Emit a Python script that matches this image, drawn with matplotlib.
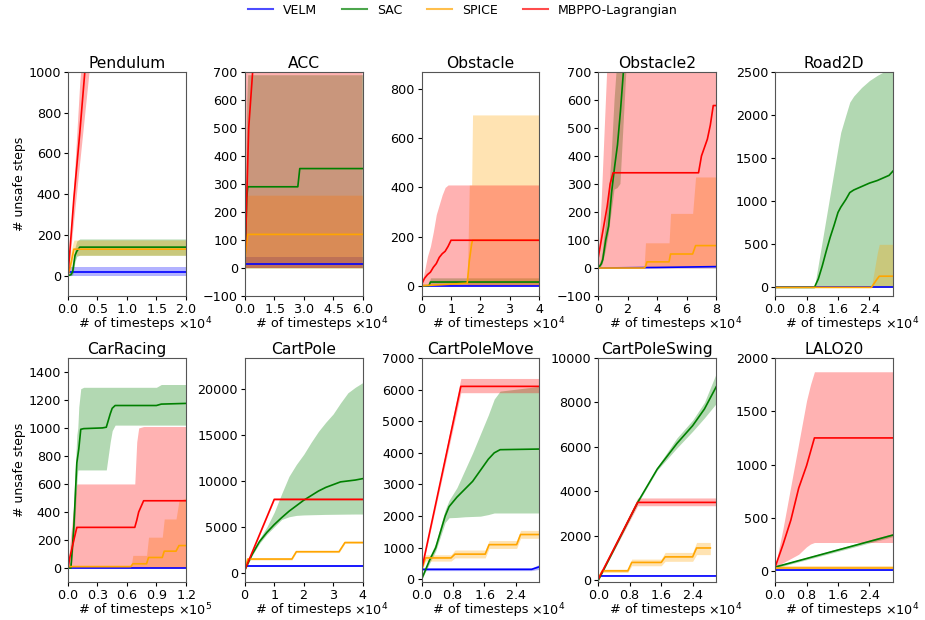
import matplotlib
matplotlib.use("Agg")
import matplotlib.pyplot as plt
import matplotlib.lines as mlines
import numpy as np

METHODS = ["VELM", "SAC", "SPICE", "MBPPO-Lagrangian"]
COLORS = ["blue", "green", "orange", "red"]

# --- Pendulum (x in 1e4 steps) ---
pend_velm_x = [0, 2.0]
pend_velm = [20, 20]
pend_velm_lo = [0, 0]
pend_velm_hi = [42, 42]
pend_sac_x = [0, 0.05, 0.08, 0.12, 0.15, 0.2, 2.0]
pend_sac = [0, 5, 20, 100, 120, 140, 140]
pend_sac_lo = [0, 0, 5, 70, 95, 100, 100]
pend_sac_hi = [0, 20, 60, 140, 170, 180, 180]
pend_spice_x = [0, 0.05, 0.1, 2.0]
pend_spice = [0, 60, 130, 130]
pend_spice_lo = [0, 30, 100, 100]
pend_spice_hi = [0, 120, 175, 175]
pend_mb_x = [0, 0.1, 0.2, 0.3, 0.4]
pend_mb = [0, 380, 700, 1050, 1400]
pend_mb_lo = [0, 280, 560, 840, 1120]
pend_mb_hi = [0, 450, 950, 1300, 1700]

# --- ACC ---
acc_velm_x = [0, 6.0]
acc_velm = [15, 15]
acc_velm_lo = [0, 0]
acc_velm_hi = [40, 40]
acc_sac_x = [0, 0.05, 0.1, 0.15, 2.7, 2.8, 6.0]
acc_sac = [0, 120, 250, 290, 290, 355, 355]
acc_sac_lo = [0, 0, 0, 0, 0, 0, 0]
acc_sac_hi = [0, 300, 600, 690, 690, 690, 690]
acc_spice_x = [0, 0.05, 0.15, 6.0]
acc_spice = [30, 60, 120, 120]
acc_spice_lo = [0, 0, 0, 0]
acc_spice_hi = [30, 150, 260, 260]
acc_mb_x = [0, 0.1, 0.2, 0.3, 0.5, 6.0]
acc_mb = [0, 250, 500, 600, 800, 3000]
acc_mb_lo = [0, 0, 0, 0, 0, 0]
acc_mb_hi = [800, 1200, 1500, 2000, 3000, 10000]

# --- Obstacle ---
obs_velm_x = [0, 4.0]
obs_velm = [0, 0]
obs_velm_lo = [0, 0]
obs_velm_hi = [2, 2]
obs_sac_x = [0, 0.25, 0.3, 4.0]
obs_sac = [0, 0, 15, 15]
obs_sac_lo = [0, 0, 5, 5]
obs_sac_hi = [0, 5, 32, 32]
obs_spice_x = [0, 1.55, 1.62, 1.7, 1.73, 4.0]
obs_spice = [0, 10, 100, 170, 185, 185]
obs_spice_lo = [0, 0, 0, 0, 0, 0]
obs_spice_hi = [0, 0, 410, 410, 695, 695]
obs_mb_x = [0, 0.1, 0.2, 0.3, 0.4, 0.5, 0.6, 0.7, 0.8, 0.9, 1.0, 4.0]
obs_mb = [5, 30, 45, 55, 75, 90, 115, 130, 140, 160, 185, 185]
obs_mb_lo = [0, 0, 0, 0, 0, 0, 0, 0, 0, 0, 0, 0]
obs_mb_hi = [5, 60, 120, 160, 220, 290, 330, 370, 400, 410, 410, 410]

# --- Obstacle2 ---
obs2_velm_x = [0, 4.0, 8.0]
obs2_velm = [0, 2, 5]
obs2_velm_lo = [0, 0, 0]
obs2_velm_hi = [0, 3, 8]
obs2_sac_x = [0, 0.2, 0.3, 0.5, 0.7, 0.9, 1.1, 1.3, 1.5, 1.7, 2.0, 8.0]
obs2_sac = [0, 15, 30, 100, 150, 270, 360, 440, 560, 700, 900, 5000]
obs2_sac_lo = [0, 5, 15, 60, 120, 200, 280, 285, 300, 500, 800, 5000]
obs2_sac_hi = [0, 30, 60, 150, 250, 400, 600, 750, 900, 1100, 1400, 8000]
obs2_spice_x = [0, 3.1, 3.2, 3.3, 4.8, 4.9, 6.4, 6.6, 8.0]
obs2_spice = [0, 0, 5, 22, 22, 50, 50, 80, 80]
obs2_spice_lo = [0, 0, 0, 0, 0, 0, 0, 0, 0]
obs2_spice_hi = [0, 0, 90, 90, 90, 195, 195, 325, 325]
obs2_mb_x = [0, 0.2, 0.4, 0.6, 0.8, 1.0, 6.8, 7.0, 7.2, 7.4, 7.6, 7.8, 8.0]
obs2_mb = [40, 100, 160, 220, 300, 340, 340, 400, 430, 460, 510, 580, 580]
obs2_mb_lo = [0, 5, 5, 5, 5, 5, 5, 5, 5, 5, 5, 5, 5]
obs2_mb_hi = [40, 250, 500, 750, 850, 1000, 1000, 1000, 1000, 1000, 1000, 1000, 1000]

# --- Road2D ---
road_velm_x = [0, 3.0]
road_velm = [0, 0]
road_velm_lo = [0, 0]
road_velm_hi = [0, 0]
road_sac_x = [0, 1.0, 1.1, 1.2, 1.3, 1.4, 1.5, 1.6, 1.67, 1.8, 1.9, 2.0, 2.2,
              2.4, 2.6, 2.8, 2.9, 3.0]
road_sac = [0, 0, 100, 250, 420, 580, 720, 870, 930, 1020, 1100, 1130, 1170,
            1210, 1240, 1280, 1300, 1350]
road_sac_lo = [0] * 18
road_sac_hi = [0, 0, 270, 540, 810, 1080, 1350, 1620, 1800, 2000, 2150, 2220,
               2320, 2400, 2460, 2510, 2530, 2550]
road_spice_x = [0, 2.45, 2.6, 2.65, 3.0]
road_spice = [0, 0, 100, 130, 130]
road_spice_lo = [0, 0, 0, 0, 0]
road_spice_hi = [0, 0, 400, 500, 500]
road_mb_x = []
road_mb = []
road_mb_lo = []
road_mb_hi = []

# --- CarRacing (x in 1e5 steps) ---
car_velm_x = [0, 1.2]
car_velm = [0, 0]
car_velm_lo = [0, 0]
car_velm_hi = [0, 0]
car_sac_x = [0, 0.03, 0.06, 0.09, 0.1, 0.11, 0.13, 0.16, 0.35, 0.39, 0.43,
             0.45, 0.48, 0.9, 0.95, 1.2]
car_sac = [0, 0, 300, 750, 800, 850, 990, 995, 1000, 1005, 1100, 1140, 1160,
           1160, 1170, 1175]
car_sac_lo = [0, 0, 200, 600, 700, 700, 700, 700, 700, 700, 900, 980, 1020,
              1020, 1020, 1020]
car_sac_hi = [0, 50, 500, 950, 1000, 1150, 1280, 1290, 1290, 1290, 1290,
              1290, 1290, 1290, 1310, 1310]
car_spice_x = [0, 0.64, 0.66, 0.8, 0.82, 0.96, 0.98, 1.1, 1.13, 1.2]
car_spice = [10, 10, 30, 30, 75, 75, 120, 120, 160, 160]
car_spice_lo = [0, 0, 0, 0, 0, 0, 0, 0, 0, 0]
car_spice_hi = [0, 0, 90, 90, 220, 220, 350, 350, 480, 500]
car_mb_x = [0, 0.02, 0.06, 0.09, 0.1, 0.68, 0.7, 0.72, 0.77, 1.2]
car_mb = [0, 80, 200, 290, 290, 290, 340, 400, 480, 480]
car_mb_lo = [0, 0, 0, 0, 0, 0, 0, 0, 0, 0]
car_mb_hi = [0, 180, 450, 600, 600, 600, 900, 1000, 1010, 1010]

# --- CartPole ---
cp_velm_x = [0, 4.0]
cp_velm = [700, 700]
cp_velm_lo = [600, 600]
cp_velm_hi = [800, 800]
cp_sac_x = [0, 0.25, 0.5, 0.75, 1.0, 1.25, 1.5, 1.75, 2.0, 2.25, 2.5, 2.75,
            3.0, 3.25, 3.5, 3.75, 4.0]
cp_sac = [300, 2000, 3400, 4400, 5250, 6000, 6700, 7300, 7900, 8400, 8900,
          9300, 9600, 9900, 10000, 10100, 10250]
cp_sac_lo = [200, 1900, 3200, 4200, 5000, 5800, 6100, 6250, 6300, 6320, 6340,
             6360, 6370, 6380, 6390, 6400, 6400]
cp_sac_hi = [300, 2100, 3700, 5000, 6600, 8600, 10500, 11800, 12900, 14200,
             15400, 16400, 17300, 18500, 19600, 20200, 20700]
cp_spice_x = [0, 0.1, 1.6, 1.75, 3.2, 3.4, 4.0]
cp_spice = [300, 1500, 1500, 2300, 2300, 3300, 3300]
cp_spice_lo = [200, 1400, 1400, 2200, 2200, 3200, 3200]
cp_spice_hi = [400, 1600, 1600, 2400, 2400, 3400, 3400]
cp_mb_x = [0, 1.0, 4.0]
cp_mb = [300, 8000, 8000]
cp_mb_lo = [200, 7900, 7900]
cp_mb_hi = [400, 8100, 8100]

# --- CartPoleMove ---
cpm_velm_x = [0, 2.8, 2.9, 3.0]
cpm_velm = [320, 320, 360, 400]
cpm_velm_lo = [280, 280, 300, 320]
cpm_velm_hi = [360, 360, 420, 480]
cpm_sac_x = [0, 0.2, 0.36, 0.6, 0.7, 0.9, 1.1, 1.3, 1.5, 1.7, 1.85, 2.0, 3.0]
cpm_sac = [0, 600, 1000, 2000, 2300, 2600, 2850, 3100, 3450, 3800, 4000, 4100,
           4120]
cpm_sac_lo = [0, 500, 900, 1800, 1950, 1960, 1980, 1990, 2000, 2050, 2100,
              2100, 2100]
cpm_sac_hi = [0, 700, 1150, 2200, 2500, 2900, 3450, 4000, 4600, 5200, 5700,
              5950, 6100]
cpm_spice_x = [0, 0.1, 0.75, 0.85, 1.62, 1.72, 2.42, 2.52, 3.0]
cpm_spice = [300, 680, 680, 800, 800, 1100, 1100, 1420, 1420]
cpm_spice_lo = [250, 580, 580, 680, 680, 980, 980, 1300, 1300]
cpm_spice_hi = [350, 780, 780, 930, 930, 1230, 1230, 1550, 1550]
cpm_mb_x = [0, 1.0, 3.0]
cpm_mb = [300, 6100, 6100]
cpm_mb_lo = [250, 5900, 5900]
cpm_mb_hi = [350, 6350, 6350]

# --- CartPoleSwing ---
cps_velm_x = [0, 3.0]
cps_velm = [200, 200]
cps_velm_lo = [170, 170]
cps_velm_hi = [230, 230]
cps_sac_x = [0, 0.5, 1.0, 1.5, 2.0, 2.4, 2.7, 3.0]
cps_sac = [0, 1750, 3500, 5000, 6150, 6950, 7700, 8700]
cps_sac_lo = [0, 1700, 3450, 4950, 5950, 6700, 7300, 7950]
cps_sac_hi = [0, 1800, 3550, 5100, 6400, 7200, 8000, 9300]
cps_spice_x = [0, 0.1, 0.75, 0.85, 1.6, 1.7, 2.4, 2.5, 2.85]
cps_spice = [100, 420, 420, 800, 800, 1050, 1050, 1450, 1450]
cps_spice_lo = [50, 350, 350, 650, 650, 850, 850, 1150, 1150]
cps_spice_hi = [150, 500, 500, 950, 950, 1250, 1250, 1700, 1700]
cps_mb_x = [0, 1.0, 3.0]
cps_mb = [50, 3500, 3500]
cps_mb_lo = [0, 3350, 3350]
cps_mb_hi = [100, 3700, 3700]

# --- LALO20 ---
lalo_velm_x = [0, 3.0]
lalo_velm = [10, 10]
lalo_velm_lo = [5, 5]
lalo_velm_hi = [15, 15]
lalo_sac_x = [0, 3.0]
lalo_sac = [40, 340]
lalo_sac_lo = [30, 325]
lalo_sac_hi = [50, 355]
lalo_spice_x = [0, 3.0]
lalo_spice = [30, 30]
lalo_spice_lo = [10, 10]
lalo_spice_hi = [50, 50]
lalo_mb_x = [0, 0.2, 0.4, 0.6, 0.8, 0.9, 1.0, 3.0]
lalo_mb = [40, 250, 480, 780, 990, 1120, 1250, 1250]
lalo_mb_lo = [40, 80, 120, 160, 230, 256, 270, 270]
lalo_mb_hi = [40, 400, 800, 1200, 1600, 1750, 1870, 1870]

TITLES = ["Pendulum", "ACC", "Obstacle", "Obstacle2", "Road2D",
          "CarRacing", "CartPole", "CartPoleMove", "CartPoleSwing", "LALO20"]
X_SCALE = [1e4, 1e4, 1e4, 1e4, 1e4, 1e5, 1e4, 1e4, 1e4, 1e4]
X_MAX = [2.0, 6.0, 4.0, 8.0, 3.0, 1.2, 4.0, 3.0, 3.0, 3.0]
X_TICKS = [[0, 0.5, 1.0, 1.5, 2.0], [0, 1.5, 3.0, 4.5, 6.0], [0, 1, 2, 3, 4],
           [0, 2, 4, 6, 8], [0, 0.8, 1.6, 2.4], [0, 0.3, 0.6, 0.9, 1.2],
           [0, 1, 2, 3, 4], [0, 0.8, 1.6, 2.4], [0, 0.8, 1.6, 2.4],
           [0, 0.8, 1.6, 2.4]]
Y_LIMS = [(-100, 1000), (-100, 700), (-42, 870), (-100, 700), (-100, 2500),
          (-100, 1500), (-1000, 23400), (-80, 7000), (-80, 10000), (-100, 2000)]
Y_STEP = [200, 100, 200, 100, 500, 200, 5000, 1000, 2000, 500]

panels = [
    [(pend_velm_x, pend_velm, pend_velm_lo, pend_velm_hi),
     (pend_sac_x, pend_sac, pend_sac_lo, pend_sac_hi),
     (pend_spice_x, pend_spice, pend_spice_lo, pend_spice_hi),
     (pend_mb_x, pend_mb, pend_mb_lo, pend_mb_hi)],
    [(acc_velm_x, acc_velm, acc_velm_lo, acc_velm_hi),
     (acc_sac_x, acc_sac, acc_sac_lo, acc_sac_hi),
     (acc_spice_x, acc_spice, acc_spice_lo, acc_spice_hi),
     (acc_mb_x, acc_mb, acc_mb_lo, acc_mb_hi)],
    [(obs_velm_x, obs_velm, obs_velm_lo, obs_velm_hi),
     (obs_sac_x, obs_sac, obs_sac_lo, obs_sac_hi),
     (obs_spice_x, obs_spice, obs_spice_lo, obs_spice_hi),
     (obs_mb_x, obs_mb, obs_mb_lo, obs_mb_hi)],
    [(obs2_velm_x, obs2_velm, obs2_velm_lo, obs2_velm_hi),
     (obs2_sac_x, obs2_sac, obs2_sac_lo, obs2_sac_hi),
     (obs2_spice_x, obs2_spice, obs2_spice_lo, obs2_spice_hi),
     (obs2_mb_x, obs2_mb, obs2_mb_lo, obs2_mb_hi)],
    [(road_velm_x, road_velm, road_velm_lo, road_velm_hi),
     (road_sac_x, road_sac, road_sac_lo, road_sac_hi),
     (road_spice_x, road_spice, road_spice_lo, road_spice_hi),
     (road_mb_x, road_mb, road_mb_lo, road_mb_hi)],
    [(car_velm_x, car_velm, car_velm_lo, car_velm_hi),
     (car_sac_x, car_sac, car_sac_lo, car_sac_hi),
     (car_spice_x, car_spice, car_spice_lo, car_spice_hi),
     (car_mb_x, car_mb, car_mb_lo, car_mb_hi)],
    [(cp_velm_x, cp_velm, cp_velm_lo, cp_velm_hi),
     (cp_sac_x, cp_sac, cp_sac_lo, cp_sac_hi),
     (cp_spice_x, cp_spice, cp_spice_lo, cp_spice_hi),
     (cp_mb_x, cp_mb, cp_mb_lo, cp_mb_hi)],
    [(cpm_velm_x, cpm_velm, cpm_velm_lo, cpm_velm_hi),
     (cpm_sac_x, cpm_sac, cpm_sac_lo, cpm_sac_hi),
     (cpm_spice_x, cpm_spice, cpm_spice_lo, cpm_spice_hi),
     (cpm_mb_x, cpm_mb, cpm_mb_lo, cpm_mb_hi)],
    [(cps_velm_x, cps_velm, cps_velm_lo, cps_velm_hi),
     (cps_sac_x, cps_sac, cps_sac_lo, cps_sac_hi),
     (cps_spice_x, cps_spice, cps_spice_lo, cps_spice_hi),
     (cps_mb_x, cps_mb, cps_mb_lo, cps_mb_hi)],
    [(lalo_velm_x, lalo_velm, lalo_velm_lo, lalo_velm_hi),
     (lalo_sac_x, lalo_sac, lalo_sac_lo, lalo_sac_hi),
     (lalo_spice_x, lalo_spice, lalo_spice_lo, lalo_spice_hi),
     (lalo_mb_x, lalo_mb, lalo_mb_lo, lalo_mb_hi)],
]

fig, axes = plt.subplots(2, 5, figsize=(9.25, 6.2), dpi=100)
fig.subplots_adjust(left=0.0735, right=0.9654, top=0.884, bottom=0.0613,
                    wspace=0.5, hspace=0.276)

for i, ax in enumerate(axes.flat):
    scale = X_SCALE[i]
    for (x, m, lo, hi), col in zip(panels[i], COLORS):
        if not x:
            continue
        xs = np.asarray(x) * scale
        ax.plot(xs, m, color=col, lw=1.2)
        ax.fill_between(xs, lo, hi, color=col, alpha=0.3, lw=0)
    ax.set_xlim(0, X_MAX[i] * scale)
    ax.set_ylim(*Y_LIMS[i])
    ax.set_xticks(np.asarray(X_TICKS[i]) * scale)
    ax.yaxis.set_major_locator(matplotlib.ticker.MultipleLocator(Y_STEP[i]))
    ax.ticklabel_format(axis="x", style="sci", scilimits=(0, 0), useMathText=True)
    ax.tick_params(labelsize=9.2, length=3, pad=2)
    for sp in ax.spines.values():
        sp.set_color("#555555")
    ax.xaxis.OFFSETTEXTPAD = -0.3
    off = ax.xaxis.get_offset_text()
    off.set_fontsize(9.2)
    off.set_horizontalalignment("left")
    off.set_x(0.93)
    ax.set_title(TITLES[i], fontsize=11.2, pad=3)
    ax.set_xlabel("# of timesteps", fontsize=9.3, labelpad=1)
    if i % 5 == 0:
        ax.set_ylabel("# unsafe steps", fontsize=9, labelpad=2)

handles = [mlines.Line2D([], [], color=c, lw=1.5, alpha=0.7, label=n)
           for n, c in zip(METHODS, COLORS)]
fig.legend(handles=handles, loc="upper center", bbox_to_anchor=(0.5, 1.012),
           ncol=4, frameon=False, fontsize=9)

fig.savefig("out.png", dpi=100)
